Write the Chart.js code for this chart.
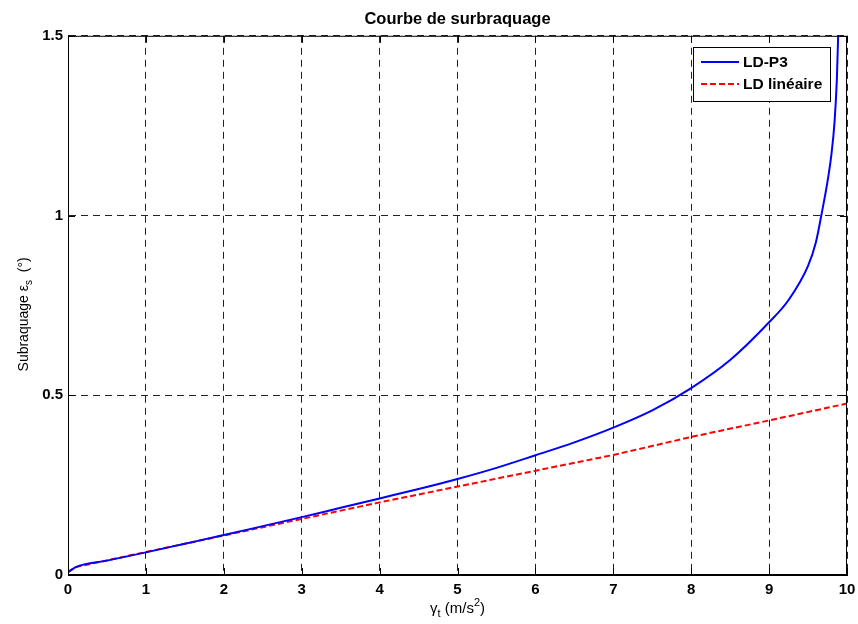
<!DOCTYPE html>
<html>
<head>
<meta charset="utf-8">
<script src="https://cdn.jsdelivr.net/npm/chart.js@4/dist/chart.umd.min.js"></script>
<style>
  html, body { margin: 0; padding: 0; background: #fff; }
  #wrap { width: 858px; height: 624px; }
</style>
</head>
<body>
<div id="wrap"><canvas id="courbe" width="858" height="624"></canvas></div>
<script>
// donnees
const xTicks = [0, 1, 2, 3, 4, 5, 6, 7, 8, 9, 10];
const yTicks = [0, 0.5, 1, 1.5];

const xP3 = [0, 0.1, 0.5, 1, 1.5, 2, 2.5, 3, 3.5, 4, 4.5, 5, 5.5, 6, 6.5, 7, 7.5, 8, 8.5, 9, 9.25, 9.5, 9.6, 9.67, 9.75, 9.8, 9.84, 9.87, 9.9];
const yP3 = [0.008, 0.022, 0.04, 0.063, 0.087, 0.111, 0.136, 0.161, 0.187, 0.213, 0.239, 0.267, 0.298, 0.333, 0.369, 0.41, 0.458, 0.52, 0.598, 0.703, 0.765, 0.86, 0.925, 1.0, 1.095, 1.17, 1.26, 1.38, 1.6];

const xLin = [0, 0.1, 1, 2, 3, 4, 5, 6, 7, 8, 9, 10];
const yLin = [0.008, 0.022, 0.064, 0.110, 0.156, 0.202, 0.246, 0.290, 0.334, 0.384, 0.430, 0.477];

const police = 'Liberation Sans, Arial, Helvetica, sans-serif';

function pts(xs, ys) {
  return xs.map((x, i) => ({ x: x, y: ys[i] }));
}

// cadre, graduations vers l'interieur, titres d'axes et legende facon matlab
const habillage = {
  id: 'habillage',
  afterDraw(chart) {
    const ctx = chart.ctx;
    const a = chart.chartArea;
    const sx = chart.scales.x, sy = chart.scales.y;
    ctx.save();
    ctx.strokeStyle = '#000';
    ctx.lineWidth = 1;
    ctx.strokeRect(a.left + 0.5, a.top + 0.5, a.right - a.left - 1, a.bottom - a.top - 1);
    ctx.beginPath();
    xTicks.forEach(v => {
      const px = Math.round(sx.getPixelForValue(v)) + 0.5;
      ctx.moveTo(px, a.bottom); ctx.lineTo(px, a.bottom - 7);
      ctx.moveTo(px, a.top); ctx.lineTo(px, a.top + 7);
    });
    yTicks.forEach(v => {
      const py = Math.round(sy.getPixelForValue(v)) + 0.5;
      ctx.moveTo(a.left, py); ctx.lineTo(a.left + 7, py);
      ctx.moveTo(a.right, py); ctx.lineTo(a.right - 7, py);
    });
    ctx.stroke();

    // titre axe x : gamma_t (m/s^2)
    ctx.fillStyle = '#000';
    ctx.textBaseline = 'alphabetic';
    const big = '15px ' + police, small = '11px ' + police;
    const partsX = [['γ', big, 0], ['t', small, 4], [' (m/s', big, 0], ['2', small, -7], [')', big, 0]];
    drawParts(ctx, partsX, (a.left + a.right) / 2, 613);

    // titre axe y : Subraquage eps_s (°)
    ctx.save();
    ctx.translate(28, (a.top + a.bottom) / 2 + 9);
    ctx.rotate(-Math.PI / 2);
    const bigY = '14px ' + police, smallY = '10px ' + police;
    const partsY = [['Subraquage ε', bigY, 0], ['s', smallY, 4], ['  (°)', bigY, 0]];
    drawParts(ctx, partsY, 0, 0);
    ctx.restore();

    // legende
    const lx = 693, ly = 47, lw = 137, lh = 54;
    ctx.fillStyle = '#fff';
    ctx.fillRect(lx, ly, lw, lh);
    ctx.strokeStyle = '#000';
    ctx.strokeRect(lx + 0.5, ly + 0.5, lw, lh);
    chart.data.datasets.forEach((ds, i) => {
      const yy = ly + 15 + i * 22;
      ctx.beginPath();
      ctx.strokeStyle = ds.borderColor;
      ctx.lineWidth = 2;
      ctx.setLineDash(ds.borderDash || []);
      ctx.moveTo(lx + 8, yy); ctx.lineTo(lx + 46, yy);
      ctx.stroke();
      ctx.setLineDash([]);
      ctx.fillStyle = '#000';
      ctx.font = 'bold 15.5px ' + police;
      ctx.textBaseline = 'middle';
      ctx.textAlign = 'left';
      ctx.fillText(ds.label, lx + 50, yy + 1);
    });
    ctx.restore();
  }
};

function drawParts(ctx, parts, cx, baseY) {
  let total = 0;
  parts.forEach(p => { ctx.font = p[1]; total += ctx.measureText(p[0]).width; });
  let x = cx - total / 2;
  ctx.textAlign = 'left';
  parts.forEach(p => {
    ctx.font = p[1];
    ctx.fillText(p[0], x, baseY + p[2]);
    x += ctx.measureText(p[0]).width;
  });
}

new Chart(document.getElementById('courbe'), {
  type: 'line',
  data: {
    datasets: [{
      label: 'LD-P3',
      data: pts(xP3, yP3),
      borderColor: '#0000ff',
      borderWidth: 2,
      pointRadius: 0,
      cubicInterpolationMode: 'monotone',
      fill: false
    }, {
      label: 'LD linéaire',
      data: pts(xLin, yLin),
      borderColor: '#ff0000',
      borderWidth: 2,
      borderDash: [6, 3],
      pointRadius: 0,
      tension: 0,
      fill: false
    }]
  },
  options: {
    responsive: false,
    animation: false,
    layout: { padding: { left: 0, right: 11, top: 0, bottom: 0 } },
    plugins: {
      legend: { display: false },
      tooltip: { enabled: false },
      title: {
        display: true,
        fullSize: false,
        text: 'Courbe de surbraquage',
        color: '#000',
        font: { family: police, size: 16.5, weight: 'bold', lineHeight: 1.2 },
        padding: { top: 10, bottom: 6 },
        position: 'top'
      }
    },
    scales: {
      x: {
        type: 'linear',
        min: 0, max: 10,
        afterBuildTicks: s => { s.ticks = xTicks.map(v => ({ value: v })); },
        afterFit: s => { s.height = 49; s.paddingLeft = 0; s.paddingRight = 0; },
        grid: { color: '#222', lineWidth: 1, drawTicks: false },
        border: { display: true, color: '#000', dash: [7, 5] },
        ticks: { color: '#000', padding: 6, maxRotation: 0, font: { family: police, size: 15, weight: 'bold' } }
      },
      y: {
        type: 'linear',
        min: 0, max: 1.5,
        afterBuildTicks: s => { s.ticks = yTicks.map(v => ({ value: v })); },
        afterFit: s => { s.width = 68; s.paddingTop = 0; s.paddingBottom = 0; },
        grid: { color: '#222', lineWidth: 1, drawTicks: false },
        border: { display: true, color: '#000', dash: [7, 5] },
        ticks: { color: '#000', padding: 5, font: { family: police, size: 15, weight: 'bold' }, callback: v => String(v) }
      }
    }
  },
  plugins: [habillage]
});
</script>
</body>
</html>
